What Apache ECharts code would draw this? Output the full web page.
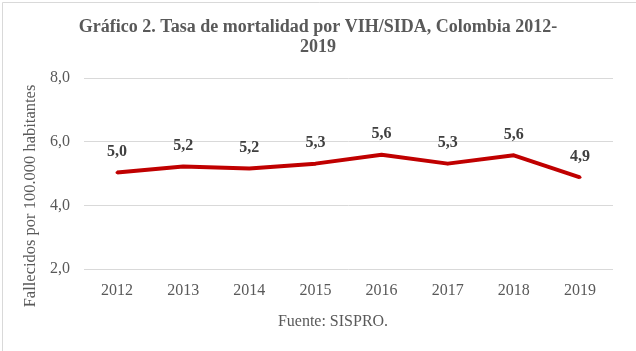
<!DOCTYPE html>
<html><head><meta charset="utf-8">
<script src="https://cdn.jsdelivr.net/npm/echarts@6/dist/echarts.min.js"></script>
<style>html,body{margin:0;padding:0;background:#fff}#c{width:636px;height:351px}</style>
</head><body><div id="c"></div>
<script>
const categories = ['2012','2013','2014','2015','2016','2017','2018','2019'];
const values = [5.03, 5.22, 5.16, 5.31, 5.59, 5.31, 5.57, 4.88];
const yTicks = { min: 2, max: 8, interval: 2 };
const titleText = 'Gráfico 2. Tasa de mortalidad por VIH/SIDA, Colombia 2012-\n2019';
const yName = 'Fallecidos por 100.000 habitantes';
const sourceText = 'Fuente: SISPRO.';
const FONT = '"Liberation Serif", "DejaVu Serif", serif';
const fmt = v => Number(v).toFixed(1).replace('.', ',');

const chart = echarts.init(document.getElementById('c'), null, {renderer:'canvas'});
chart.setOption({
  animation: false,
  backgroundColor: '#ffffff',
  graphic: [{
    type: 'rect', left: 0, top: 0, silent: true,
    shape: { x: 0.5, y: 0.5, width: 635, height: 350 },
    style: { fill: 'none', stroke: '#d9d9d9', lineWidth: 1 }
  }],
  title: [{
    text: titleText, left: 'center', top: 12,
    textStyle: { fontFamily: FONT, fontSize: 18, fontWeight: 'bold', color: '#595959', lineHeight: 20 }
  }, {
    text: sourceText, left: 328, top: 309, textAlign: 'center',
    textStyle: { fontFamily: FONT, fontSize: 16, fontWeight: 'normal', color: '#595959' }
  }],
  grid: { left: 84, right: 23, top: 78, bottom: 82 },
  xAxis: {
    type: 'category', data: categories, boundaryGap: true,
    axisLine: { show: false }, axisTick: { show: false },
    axisLabel: { color: '#595959', fontFamily: FONT, fontSize: 16, margin: 14 }
  },
  yAxis: {
    type: 'value', min: yTicks.min, max: yTicks.max, interval: yTicks.interval,
    axisLine: { show: false }, axisTick: { show: false },
    splitLine: { lineStyle: { color: '#d9d9d9', width: 1 } },
    axisLabel: { color: '#595959', fontFamily: FONT, fontSize: 16, margin: 14, formatter: fmt },
    name: yName, nameLocation: 'middle', nameGap: 38, nameRotate: 90,
    nameTextStyle: { color: '#595959', fontFamily: FONT, fontSize: 16.5, padding: [0, 45, 0, 0] }
  },
  series: [{
    type: 'line', data: values,
    symbol: 'circle', symbolSize: 3,
    itemStyle: { color: '#C00000' },
    lineStyle: { color: '#C00000', width: 4 },
    label: {
      show: true, position: 'top', distance: 11,
      fontFamily: FONT, fontSize: 16, fontWeight: 'bold', color: '#404040',
      formatter: p => fmt(p.value)
    }
  }]
});
</script></body></html>
